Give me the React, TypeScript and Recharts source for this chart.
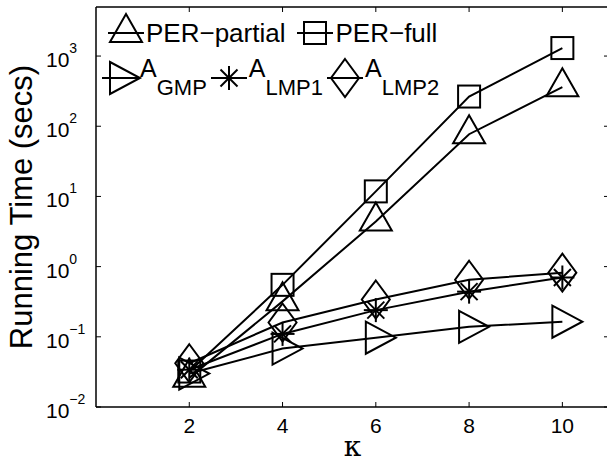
import { LineChart, Line, XAxis, YAxis, ReferenceLine, Label } from "recharts";

// ─── Data ──────────────────────────────────────────────────

const KAPPA = [2, 4, 6, 8, 10];
const PER_PARTIAL = [0.026, 0.32, 4.4, 77, 360];
const PER_FULL = [0.032, 0.55, 11.8, 265, 1300];
const A_GMP = [0.03, 0.068, 0.097, 0.139, 0.164];
const A_LMP1 = [0.034, 0.11, 0.24, 0.44, 0.7];
const A_LMP2 = [0.042, 0.16, 0.34, 0.65, 0.82];

const X_TICKS = [2, 4, 6, 8, 10];
const Y_TICKS = [0.01, 0.1, 1, 10, 100, 1000];
const Y_EXPONENTS = ["\u22122", "\u22121", "0", "1", "2", "3"];
const Y_MAX = 5000;

const data = KAPPA.map((k, i) => ({
  k,
  perPartial: PER_PARTIAL[i],
  perFull: PER_FULL[i],
  aGmp: A_GMP[i],
  aLmp1: A_LMP1[i],
  aLmp2: A_LMP2[i],
}));

// ─── Layout ────────────────────────────────────────────────

const W = 612;
const H = 464;
const PLOT_LEFT = 96;
const PLOT_TOP = 7;
const PLOT_BOTTOM = 407;
const PLOT_RIGHT = 609;
const SANS = "'Liberation Sans', Arial, Helvetica, sans-serif";

// ─── Markers ───────────────────────────────────────────────

type Kind = "up" | "square" | "right" | "star" | "diamond";

function Marker({ kind, cx, cy }: { kind: Kind; cx: number; cy: number }) {
  const s = { fill: "none", stroke: "#000", strokeWidth: 2 };
  switch (kind) {
    case "up":
      return (
        <polygon
          points={`${cx},${cy - 19} ${cx + 16},${cy + 9} ${cx - 16},${cy + 9}`}
          {...s}
        />
      );
    case "square":
      return <rect x={cx - 11} y={cy - 11} width={22} height={22} {...s} />;
    case "right":
      return (
        <polygon
          points={`${cx - 10},${cy - 16} ${cx + 20},${cy} ${cx - 10},${cy + 16}`}
          {...s}
        />
      );
    case "diamond":
      return (
        <polygon
          points={`${cx},${cy - 19} ${cx + 14},${cy} ${cx},${cy + 19} ${cx - 14},${cy}`}
          {...s}
        />
      );
    case "star":
      return (
        <g {...s}>
          <line x1={cx - 12} x2={cx + 12} y1={cy} y2={cy} />
          <line x1={cx} x2={cx} y1={cy - 12} y2={cy + 12} />
          <line x1={cx - 8.5} x2={cx + 8.5} y1={cy - 8.5} y2={cy + 8.5} />
          <line x1={cx - 8.5} x2={cx + 8.5} y1={cy + 8.5} y2={cy - 8.5} />
        </g>
      );
  }
}

const dotFor = (kind: Kind) => (p: any) =>
  <Marker key={`${kind}-${p.index}`} kind={kind} cx={p.cx} cy={p.cy} />;

// ─── Ticks (inward, Matlab style) ──────────────────────────

function XTick({ x, payload }: any) {
  return (
    <g>
      <line x1={x} x2={x} y1={PLOT_BOTTOM} y2={PLOT_BOTTOM - 5} stroke="#000" />
      <line x1={x} x2={x} y1={PLOT_TOP} y2={PLOT_TOP + 5} stroke="#000" />
      <text
        x={x}
        y={PLOT_BOTTOM + 26}
        textAnchor="middle"
        fontSize={21}
        fontFamily={SANS}
        fill="#000"
      >
        {payload.value}
      </text>
    </g>
  );
}

function YTick({ y, payload }: any) {
  const exp = Y_EXPONENTS[Y_TICKS.indexOf(payload.value)];
  return (
    <g>
      <line x1={PLOT_LEFT} x2={PLOT_LEFT + 5} y1={y} y2={y} stroke="#000" />
      <line x1={PLOT_RIGHT - 5} x2={PLOT_RIGHT} y1={y} y2={y} stroke="#000" />
      <text x={46} y={y + 11} fontSize={21} fontFamily={SANS} fill="#000">
        10
        <tspan dy={-14} fontSize={14}>
          {exp}
        </tspan>
      </text>
    </g>
  );
}

// ─── Legend ────────────────────────────────────────────────

function LegendItem({
  kind,
  gap = 0,
  children,
}: {
  kind: Kind;
  gap?: number;
  children: React.ReactNode;
}) {
  return (
    <div style={{ display: "flex", alignItems: "center", marginLeft: gap, marginRight: 4 }}>
      <svg width={36} height={40} style={{ overflow: "visible" }}>
        <line x1={0} x2={36} y1={20} y2={20} stroke="#000" strokeWidth={2} />
        <Marker kind={kind} cx={18} cy={20} />
      </svg>
      <span style={{ marginLeft: 2, whiteSpace: "nowrap" }}>{children}</span>
    </div>
  );
}

const sub = { fontSize: 22, verticalAlign: "-18px" };

function ChartLegend() {
  const row = {
    position: "absolute" as const,
    display: "flex",
    fontFamily: SANS,
    lineHeight: "40px",
    color: "#000",
  };
  return (
    <>
      <div style={{ ...row, top: 13, left: 108, fontSize: 26 }}>
        <LegendItem kind="up">PER{"\u2212"}partial</LegendItem>
        <LegendItem kind="square" gap={8}>
          PER{"\u2212"}full
        </LegendItem>
      </div>
      <div style={{ ...row, top: 48, left: 102, fontSize: 25 }}>
        <LegendItem kind="right">
          A<span style={sub}>GMP</span>
        </LegendItem>
        <LegendItem kind="star">
          A<span style={sub}>LMP1</span>
        </LegendItem>
        <LegendItem kind="diamond">
          A<span style={sub}>LMP2</span>
        </LegendItem>
      </div>
    </>
  );
}

// ─── Chart ─────────────────────────────────────────────────

export default function App() {
  return (
    <div
      style={{
        position: "fixed",
        left: 0,
        top: 0,
        width: 607,
        height: 464,
        overflow: "hidden",
        background: "#fff",
      }}
    >
      <div style={{ position: "relative", width: W, height: H }}>
        <LineChart
          width={W}
          height={H}
          data={data}
          margin={{ top: PLOT_TOP, right: W - PLOT_RIGHT, bottom: 0, left: 0 }}
        >
          <XAxis
            dataKey="k"
            type="number"
            domain={[0, 11]}
            ticks={X_TICKS}
            interval={0}
            height={H - PLOT_BOTTOM}
            tickLine={false}
            tickSize={0}
            axisLine={{ stroke: "#000", strokeWidth: 1.5 }}
            tick={<XTick />}
          >
            <Label
              content={({ viewBox }: any) => (
                <text
                  x={viewBox.x + viewBox.width / 2}
                  y={viewBox.y + 49}
                  textAnchor="middle"
                  fontSize={28}
                  fontFamily="'DejaVu Serif', serif"
                  fill="#000"
                >
                  κ
                </text>
              )}
            />
          </XAxis>
          <YAxis
            type="number"
            scale="log"
            domain={[0.01, Y_MAX]}
            allowDataOverflow
            ticks={Y_TICKS}
            interval={0}
            width={PLOT_LEFT}
            tickLine={false}
            tickSize={0}
            axisLine={{ stroke: "#000", strokeWidth: 1.5 }}
            tick={<YTick />}
          >
            <Label
              content={() => (
                <text
                  x={32}
                  y={207}
                  transform="rotate(-90, 32, 207)"
                  textAnchor="middle"
                  fontSize={31}
                  fontFamily={SANS}
                  fill="#000"
                >
                  Running Time (secs)
                </text>
              )}
            />
          </YAxis>
          <ReferenceLine y={Y_MAX} stroke="#000" strokeWidth={1.5} />
          <Line
            dataKey="perPartial"
            stroke="#000"
            strokeWidth={2}
            dot={dotFor("up")}
            isAnimationActive={false}
          />
          <Line
            dataKey="perFull"
            stroke="#000"
            strokeWidth={2}
            dot={dotFor("square")}
            isAnimationActive={false}
          />
          <Line
            dataKey="aGmp"
            stroke="#000"
            strokeWidth={2}
            dot={dotFor("right")}
            isAnimationActive={false}
          />
          <Line
            dataKey="aLmp1"
            stroke="#000"
            strokeWidth={2}
            dot={dotFor("star")}
            isAnimationActive={false}
          />
          <Line
            dataKey="aLmp2"
            stroke="#000"
            strokeWidth={2}
            dot={dotFor("diamond")}
            isAnimationActive={false}
          />
        </LineChart>
        <ChartLegend />
      </div>
    </div>
  );
}
